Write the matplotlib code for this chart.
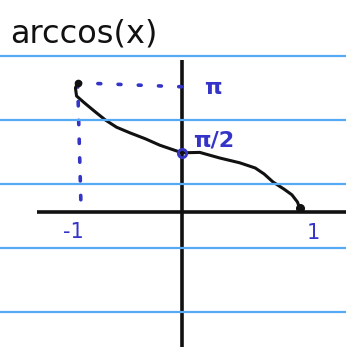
import matplotlib
matplotlib.use("Agg")
import matplotlib.pyplot as plt
from matplotlib.lines import Line2D

# Hand-sketched arccos curve (x in [-1, 1], y in radians)
curve_x = [-0.94, -0.96, -0.95, -0.88, -0.78, -0.69, -0.59, -0.47, -0.33,
           -0.20, 0.0, 0.16, 0.34, 0.52, 0.66, 0.74, 0.82, 0.92, 0.99,
           1.04, 1.06]
curve_y = [3.18, 3.05, 2.85, 2.68, 2.45, 2.25, 2.07, 1.93, 1.78,
           1.62, 1.43, 1.44, 1.30, 1.18, 1.05, 0.90, 0.70, 0.52, 0.38,
           0.20, 0.05]

# Marked points and their labels
top_pt = (-0.94, 3.18)
mid_pt = (0.0, 1.43)
end_pt = (1.06, 0.05)
tick_labels = ["-1", "1"]
tick_x = [-0.98, 1.18]
y_labels = ["π", "π/2"]
y_label_y = [3.05, 1.75]

INK = "#111111"
PEN = "#3434c8"
RULE = "#55aaf5"

W, H = 346, 347
fig = plt.figure(figsize=(W / 100, H / 100), dpi=100)
fig.patch.set_facecolor("white")

# Ruled paper lines
for py in range(56, H, 64):
    fig.add_artist(Line2D([0, 1], [1 - py / H, 1 - py / H],
                          transform=fig.transFigure, color=RULE, lw=1.6))

ax = fig.add_axes([0, 0, 1, 1])
ax.set_xlim(-182 / 111, (W - 182) / 111)
ax.set_ylim((210 - H) / 40, 210 / 40)
ax.axis("off")
ax.patch.set_alpha(0)

# Axes
ax.plot([-1.31, 1.48], [-0.05, -0.05], color=INK, lw=2.6, solid_capstyle="butt")
ax.plot([0, 0], [3.75, -3.5], color=INK, lw=2.6, solid_capstyle="butt")

# Dotted guides
ax.plot([top_pt[0], 0.0], [top_pt[1], 3.08], color=PEN, lw=2.6,
        linestyle=(0, (0.8, 4.8)), dash_capstyle="round")
ax.plot([top_pt[0], -0.91], [top_pt[1], 0.1], color=PEN, lw=2.6,
        linestyle=(0, (1.2, 4.0)), dash_capstyle="round")

# Curve
ax.plot(curve_x, curve_y, color=INK, lw=2.2, solid_capstyle="round",
        solid_joinstyle="round")
ax.plot(*top_pt, "o", color=INK, ms=4.5)
ax.plot(*end_pt, "o", color=INK, ms=5.5)
ax.plot(*mid_pt, "o", mfc="none", mec=PEN, mew=2, ms=6)

# Labels
ax.text(0.2, y_label_y[0], y_labels[0], color=PEN, fontsize=16,
        fontweight="bold", ha="left", va="center")
ax.text(0.1, y_label_y[1], y_labels[1], color=PEN, fontsize=16,
        fontweight="bold", ha="left", va="center")
ax.text(tick_x[0], -0.55, tick_labels[0], color=PEN, fontsize=15,
        ha="center", va="center")
ax.text(tick_x[1], -0.58, tick_labels[1], color=PEN, fontsize=15,
        ha="center", va="center")

fig.text(10 / W, 1 - 34 / H, "arccos(x)", color=INK, fontsize=23,
         ha="left", va="center")

fig.savefig("out.png", dpi=100)
